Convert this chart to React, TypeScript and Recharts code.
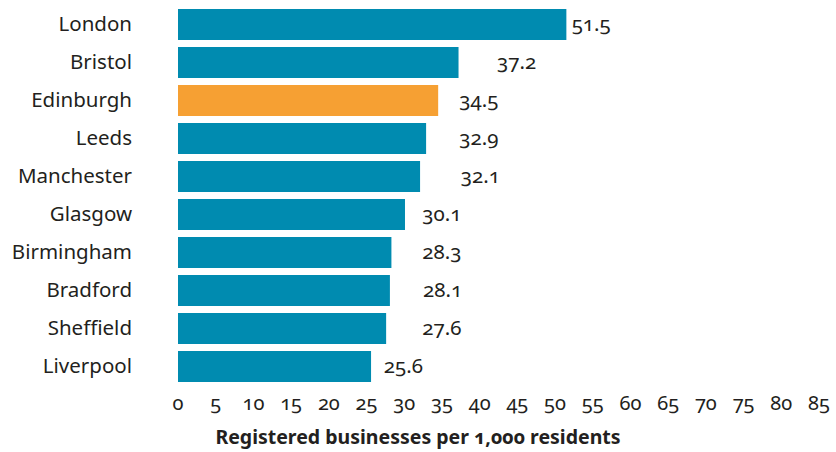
import { BarChart, Bar, XAxis, YAxis, Cell, LabelList } from 'recharts'

const CITIES = [
  'London', 'Bristol', 'Edinburgh', 'Leeds', 'Manchester',
  'Glasgow', 'Birmingham', 'Bradford', 'Sheffield', 'Liverpool',
]
const VALUES = [51.5, 37.2, 34.5, 32.9, 32.1, 30.1, 28.3, 28.1, 27.6, 25.6]
// where each value label starts, in axis units (the source places them by hand)
const LABEL_AT = [52.2, 42.3, 37.3, 37.3, 37.5, 32.4, 32.4, 32.5, 32.4, 27.3]
const HIGHLIGHT = 'Edinburgh'
const X_TICKS = [0, 5, 10, 15, 20, 25, 30, 35, 40, 45, 50, 55, 60, 65, 70, 75, 80, 85]

const TEAL = '#008bb0'
const ORANGE = '#f6a033'
const INK = '#231f20'
const FONT = '"Noto Sans", "Open Sans", sans-serif'

const rows = CITIES.map((city, i) => ({ city, value: VALUES[i], labelAt: LABEL_AT[i] }))

// value label, placed at its labelAt position using the bar's own px-per-unit
function ValueLabel(props: any) {
  const { x, y, width, height, value } = props
  const row = rows.find((r) => r.value === value)
  if (!row) return null
  const perUnit = width / value
  return (
    <text
      x={x + row.labelAt * perUnit}
      y={y + height / 2}
      dy={-1.5}
      dominantBaseline="central"
      fill={INK}
      fontSize={20.5}
      fontFamily={FONT}
      style={{ fontVariantNumeric: 'oldstyle-nums' }}
    >
      {value.toFixed(1)}
    </text>
  )
}

export default function App() {
  return (
    <div style={{ position: 'relative', width: 836, height: 452 }}>
      <style>{'body{margin:0}'}</style>
      <BarChart
        width={836}
        height={452}
        data={rows}
        layout="vertical"
        margin={{ top: 5, right: 17, bottom: 0, left: 0 }}
      >
        <XAxis
          type="number"
          domain={[0, 85]}
          ticks={X_TICKS}
          interval={0}
          axisLine={false}
          tickLine={false}
          tickSize={0}
          tickMargin={11}
          height={67}
          tick={{ fill: INK, fontSize: 20, fontFamily: FONT, style: { fontVariantNumeric: 'oldstyle-nums' } }}
        />
        <YAxis
          type="category"
          dataKey="city"
          width={178}
          axisLine={false}
          tickLine={false}
          tickSize={0}
          tickMargin={46}
          interval={0}
          tick={{ fill: INK, fontSize: 20.5, fontFamily: FONT }}
        />
        <Bar dataKey="value" barSize={31} isAnimationActive={false}>
          {rows.map((r) => (
            <Cell key={r.city} fill={r.city === HIGHLIGHT ? ORANGE : TEAL} />
          ))}
          <LabelList dataKey="value" content={ValueLabel} />
        </Bar>
      </BarChart>
      <div
        style={{
          position: 'absolute',
          left: 0,
          width: 836,
          top: 425,
          textAlign: 'center',
          fontFamily: FONT,
          fontWeight: 700,
          fontSize: 19.5,
          color: INK,
          lineHeight: '24px',
          fontVariantNumeric: 'oldstyle-nums',
        }}
      >
        Registered businesses per 1,000 residents
      </div>
    </div>
  )
}
